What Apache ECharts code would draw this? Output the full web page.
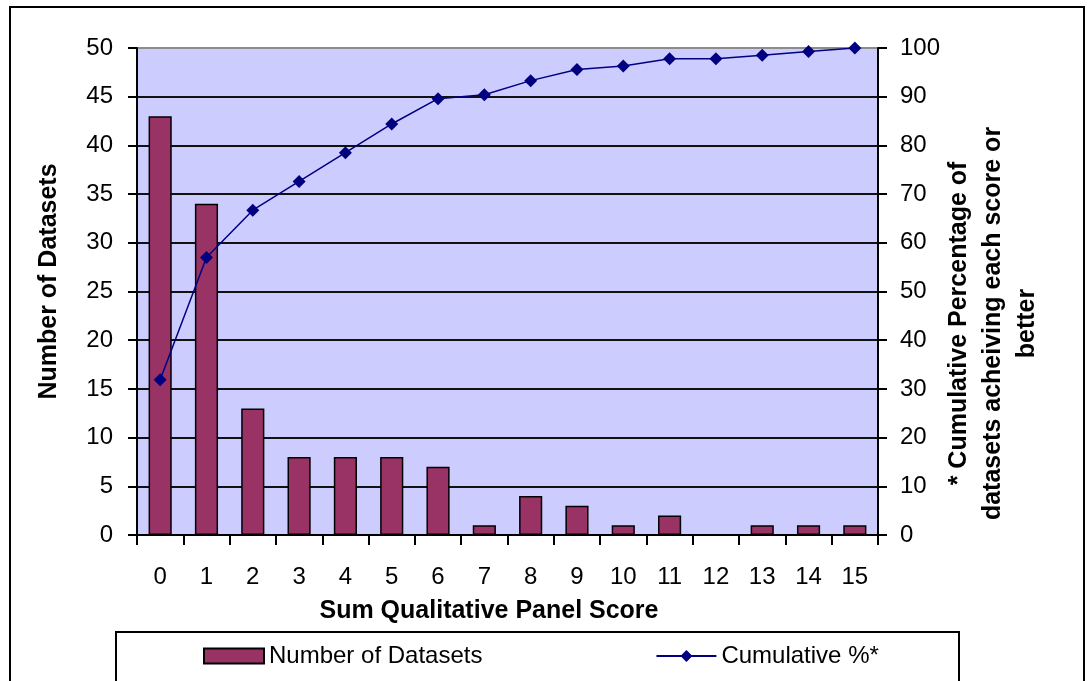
<!DOCTYPE html>
<html>
<head>
<meta charset="utf-8">
<script src="https://cdn.jsdelivr.net/npm/echarts@6/dist/echarts.min.js"></script>
<style>
html,body{margin:0;padding:0;background:#fff;}
#chart{width:1089px;height:681px;}
</style>
</head>
<body>
<div id="chart"></div>
<script>
const categories = ['0','1','2','3','4','5','6','7','8','9','10','11','12','13','14','15'];
const datasetCounts = [43, 34, 13, 8, 8, 8, 7, 1, 4, 3, 1, 2, 0, 1, 1, 1];
const cumulativePct = [31.9, 57.0, 66.7, 72.6, 78.5, 84.4, 89.6, 90.4, 93.3, 95.6, 96.3, 97.8, 97.8, 98.5, 99.3, 100];
const leftTicks = {min: 0, max: 50, interval: 5};
const rightTicks = {min: 0, max: 100, interval: 10};

const FONT = "'Liberation Sans', Arial, sans-serif";
const chart = echarts.init(document.getElementById('chart'), null, {renderer: 'canvas'});

const splitColors = [];
for (let i = 0; i < 11; i++) splitColors.push(i === 10 ? '#8c8c8c' : '#111');

chart.setOption({
  backgroundColor: '#fff',
  animation: false,
  textStyle: {fontFamily: FONT},
  graphic: [
    {type: 'rect', z: -10, shape: {x: 10, y: 7, width: 1074, height: 720},
     style: {fill: 'none', stroke: '#000', lineWidth: 2}},
    {type: 'rect', z: -5, shape: {x: 116, y: 632, width: 843, height: 80},
     style: {fill: '#fff', stroke: '#000', lineWidth: 2}}
  ],
  grid: {left: 137, right: 211, top: 48, bottom: 146, show: true,
         backgroundColor: '#CCCCFF', borderWidth: 0},
  legend: {
    left: 203, top: 644, padding: 0,
    itemWidth: 60, itemHeight: 15, itemGap: 173,
    textStyle: {fontSize: 24, color: '#000', fontFamily: FONT, lineHeight: 24},
    data: [
      {name: 'Number of Datasets', icon: 'rect'},
      {name: 'Cumulative %*'}
    ]
  },
  xAxis: {
    type: 'category', data: categories,
    name: 'Sum Qualitative Panel Score', nameLocation: 'middle', nameGap: 64,
    nameMoveOverlap: false,
    nameTextStyle: {fontSize: 25, fontWeight: 'bold', color: '#000', fontFamily: FONT, padding: [0, 37, 0, 0]},
    axisLine: {lineStyle: {color: '#000', width: 2}},
    axisTick: {show: true, alignWithLabel: false, length: 10, lineStyle: {color: '#000', width: 2}},
    axisLabel: {fontSize: 24, color: '#000', margin: 30, interval: 0},
    splitLine: {show: false}
  },
  yAxis: [
    {
      type: 'value', min: leftTicks.min, max: leftTicks.max, interval: leftTicks.interval,
      name: 'Number of Datasets', nameLocation: 'middle', nameGap: 75,
      nameMoveOverlap: false,
      nameTextStyle: {fontSize: 25, fontWeight: 'bold', color: '#000', fontFamily: FONT, padding: [0, 0, 0, 20]},
      axisLine: {show: true, lineStyle: {color: '#000', width: 2}},
      axisTick: {show: true, length: 9, lineStyle: {color: '#000', width: 2}},
      axisLabel: {fontSize: 24, color: '#000', margin: 24},
      splitLine: {show: true, lineStyle: {color: splitColors, width: 2}}
    },
    {
      type: 'value', min: rightTicks.min, max: rightTicks.max, interval: rightTicks.interval,
      position: 'right',
      name: '* Cumulative Percentage of\ndatasets acheiving each score or\nbetter',
      nameLocation: 'middle', nameGap: 64, nameRotate: 90,
      nameMoveOverlap: false,
      nameTextStyle: {fontSize: 25, fontWeight: 'bold', color: '#000', fontFamily: FONT,
                      lineHeight: 34, align: 'center', padding: [0, 64, 0, 0]},
      axisLine: {show: true, lineStyle: {color: '#000', width: 2}},
      axisTick: {show: true, length: 9, lineStyle: {color: '#000', width: 2}},
      axisLabel: {fontSize: 24, color: '#000', margin: 22},
      splitLine: {show: false}
    }
  ],
  series: [
    {
      name: 'Number of Datasets', type: 'bar', data: datasetCounts, yAxisIndex: 0,
      barWidth: '50%',
      itemStyle: {color: '#993366', borderColor: '#000', borderWidth: 1.5}
    },
    {
      name: 'Cumulative %*', type: 'line', data: cumulativePct, yAxisIndex: 1,
      symbol: 'diamond', symbolSize: 13,
      lineStyle: {color: '#000080', width: 1.5},
      itemStyle: {color: '#000080'},
      z: 5
    }
  ]
});
</script>
</body>
</html>
